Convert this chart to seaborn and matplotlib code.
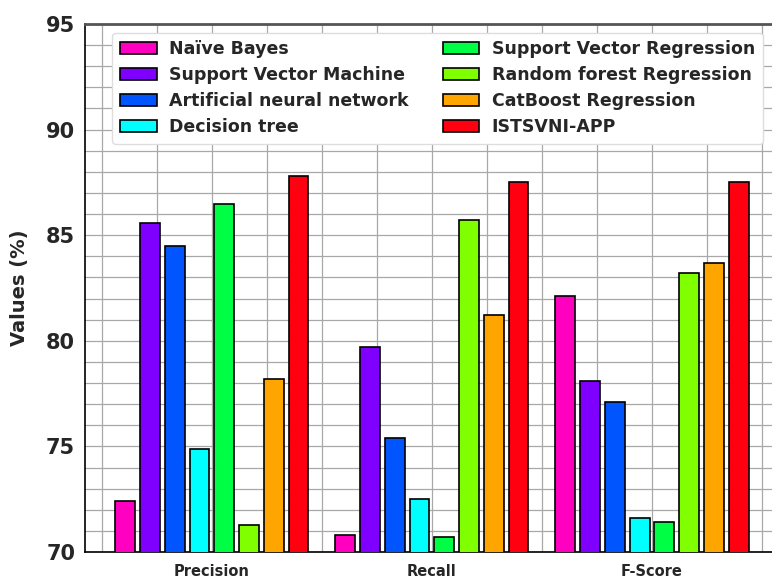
import numpy as np
import pandas as pd
import matplotlib
matplotlib.use("Agg")
import matplotlib.pyplot as plt
import seaborn as sns
from matplotlib.ticker import AutoMinorLocator, MultipleLocator

metrics = ["Precision", "Recall", "F-Score"]
models = ["Naïve Bayes", "Support Vector Machine", "Artificial neural network",
          "Decision tree", "Support Vector Regression", "Random forest Regression",
          "CatBoost Regression", "ISTSVNI-APP"]
naive_bayes = [72.4, 70.8, 82.1]
svm = [85.6, 79.7, 78.1]
ann = [84.5, 75.4, 77.1]
decision_tree = [74.9, 72.5, 71.6]
svr = [86.5, 70.7, 71.4]
rfr = [71.3, 85.7, 83.2]
catboost = [78.2, 81.2, 83.7]
istsvni = [87.8, 87.5, 87.5]
colors = ["#ff00c0", "#7f00ff", "#0055ff", "#00ffff", "#00ff44", "#80ff00", "#ffa500", "#ff0010"]

series = [naive_bayes, svm, ann, decision_tree, svr, rfr, catboost, istsvni]
rows = []
for m, vals in zip(models, series):
    for met, v in zip(metrics, vals):
        rows.append({"Metric": met, "Model": m, "Value": v})
df = pd.DataFrame(rows)

sns.set_style("white")
plt.rcParams['font.family'] = ['DejaVu Sans']
plt.rcParams['font.weight'] = 'bold'

fig = plt.figure(figsize=(7.72, 5.79), dpi=100)
ax = fig.add_axes([0.110, 0.0466, 0.899, 0.912])

sns.barplot(data=df, x="Metric", y="Value", hue="Model", hue_order=models,
            order=metrics, palette=colors, saturation=1, width=0.9, gap=0.2,
            edgecolor="black", linewidth=1.2, ax=ax, zorder=3)

ax.set_ylim(70, 95)
ax.set_xlim(-0.577, 2.577)
ax.yaxis.set_major_locator(MultipleLocator(5))
ax.yaxis.set_minor_locator(AutoMinorLocator(5))
ax.xaxis.set_minor_locator(AutoMinorLocator(4))
ax.grid(True, which='both', axis='both', color='#a8a8a8', linewidth=0.9, zorder=0)
ax.set_axisbelow(True)
ax.tick_params(axis='both', which='major', direction='out', length=5, width=1.2, color='black')
ax.tick_params(axis='both', which='minor', direction='out', length=3, width=1.0, color='black')
ax.tick_params(axis='y', labelsize=15, pad=2)
ax.tick_params(axis='x', labelsize=10.5)
for lab in ax.get_xticklabels() + ax.get_yticklabels():
    lab.set_fontweight('bold')
ax.set_xlabel("")
ax.set_ylabel("Values (%)", fontsize=14, fontweight='bold', labelpad=12)
for s in ax.spines.values():
    s.set_color('black')
    s.set_linewidth(1.2)
ax.spines['top'].set_color('#555555')
ax.spines['top'].set_linewidth(2)

handles, labels = ax.get_legend_handles_labels()
ax.legend(handles, labels, ncol=2, loc='upper left', bbox_to_anchor=(0.027, 1.0),
          prop={'weight': 'bold', 'size': 12.5}, frameon=True, edgecolor='#dddddd',
          framealpha=1.0, fancybox=True, columnspacing=2.0, handlelength=2.1,
          handletextpad=0.7, labelspacing=0.45, borderpad=0.45)

fig.savefig("out.png", dpi=100)
